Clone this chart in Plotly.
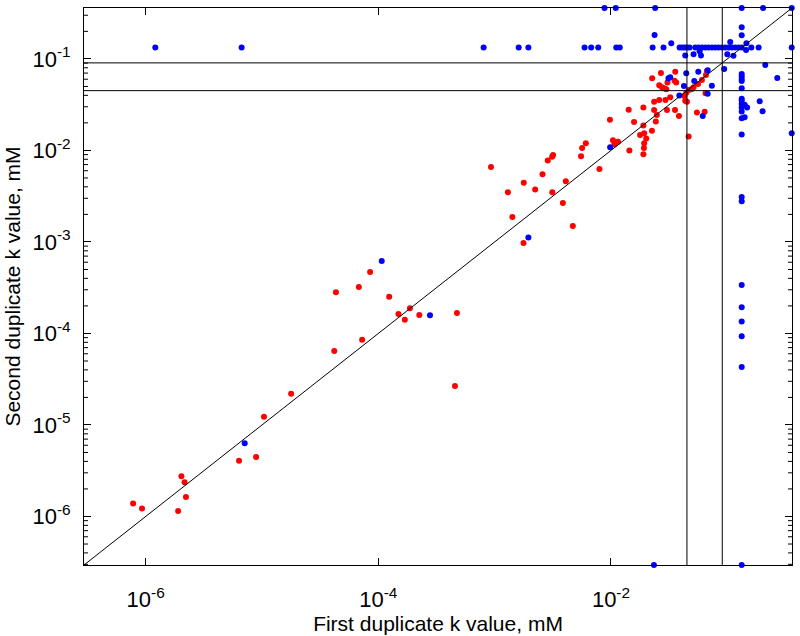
import math
import plotly.graph_objects as go

# duplicate k values (mM)
red_x = [7.8e-7, 9.3e-7, 1.9e-6, 2.03e-6, 2.16e-6, 2.22e-6, 6.35e-6, 8.9e-6, 1.04e-5, 1.78e-5,
         4.18e-5, 7.26e-5, 4.32e-5, 6.8e-5, 8.5e-5, 1.24e-4, 1.49e-4, 1.87e-4, 2.25e-4, 1.69e-4,
         4.74e-4, 4.56e-4, 9.3e-4, 1.3e-3, 1.42e-3, 1.78e-3, 2.23e-3, 1.77e-3, 2.58e-3, 2.86e-3,
         3.12e-3, 3.18e-3, 3.13e-3, 3.86e-3, 4.09e-3, 4.7e-3, 5.53e-3, 5.65e-3, 6.08e-3, 7.96e-3,
         9.8e-3, 1.04e-2, 1.07e-2, 1.15e-2, 1.42e-2, 1.44e-2, 1.9e-2, 1.93e-2, 1.78e-2, 1.93e-2,
         2.01e-2, 2.25e-2, 1.58e-2, 1.9e-2, 2.43e-2, 2.48e-2, 1.9e-2, 2.35e-2, 2.35e-2, 2.6e-2,
         2.94e-2, 3.23e-2, 3.03e-2, 3.55e-2, 3.84e-2, 2.69e-2, 2.26e-2, 2.6e-2, 2.74e-2, 2.87e-2,
         2.99e-2, 3.57e-2, 3.52e-2, 3.64e-2, 3.06e-2, 6.68e-2, 6.55e-2, 6.05e-2, 5.6e-2, 5.13e-2,
         4.92e-2, 4.65e-2, 4.44e-2, 4.35e-2, 4.5e-2, 4.65e-2, 5.48e-2, 6.39e-2, 6.5e-2, 4.28e-2,
         1.92e-2]
red_y = [1.39e-6, 1.22e-6, 1.15e-6, 2.75e-6, 2.37e-6, 1.63e-6, 4.07e-6, 4.47e-6, 1.23e-5, 2.2e-5,
         6.45e-5, 8.55e-5, 2.82e-4, 3.22e-4, 4.7e-4, 2.52e-4, 1.63e-4, 1.88e-4, 1.59e-4, 1.41e-4,
         1.67e-4, 2.67e-5, 6.6e-3, 3.49e-3, 1.87e-3, 4.42e-3, 3.73e-3, 9.75e-4, 5.5e-3, 7.75e-3,
         8.55e-3, 8.9e-3, 3.49e-3, 2.67e-3, 4.6e-3, 1.49e-3, 8.65e-3, 1.06e-2, 1.2e-2, 6.28e-3,
         2.17e-2, 1.29e-2, 1.17e-2, 1.24e-2, 2.79e-2, 9.95e-3, 9.1e-3, 1.2e-2, 1.47e-2, 1.54e-2,
         1.35e-2, 1.64e-2, 2.05e-2, 1.87e-2, 2.07e-2, 2.44e-2, 2.94e-2, 2.77e-2, 3.41e-2, 3.56e-2,
         3.56e-2, 3.81e-2, 2.77e-2, 2.77e-2, 2.38e-2, 7.03e-2, 6.15e-2, 5.16e-2, 4.91e-2, 4.79e-2,
         4.67e-2, 7.26e-2, 5.79e-2, 5.51e-2, 5.51e-2, 7.4e-2, 6.68e-2, 5.89e-2, 5.33e-2, 4.91e-2,
         4.67e-2, 4.58e-2, 4.28e-2, 3.5e-2, 3.41e-2, 1.42e-2, 2.59e-2, 2.65e-2, 4.22e-2, 3.94e-2,
         1.06e-2]

top = 0.36      # values pinned at the upper limit
bottom = 2.95e-7
cap = 0.133

blue_x = [8.8e-3, 1.1e-2, 2.4e-2, cap, 0.203, 0.358,
          1.21e-6, 6.68e-6, 8.04e-4, 1.61e-3, 1.95e-3, 5.93e-3, 6.76e-3, 7.77e-3, 1.11e-2, 1.19e-2,
          2.28e-2, 2.83e-2, 3.89e-2, 4.08e-2, 4.3e-2, 4.5e-2, 4.74e-2, 5.31e-2, 5.66e-2, 6.06e-2,
          6.47e-2, 6.9e-2, 7.38e-2, 7.88e-2, 8.41e-2, 8.99e-2, 9.6e-2, 0.1025, 0.1096, 0.117, 0.125,
          cap, 0.161, 0.186, 0.358,
          cap, cap, cap, cap, cap, cap, cap, cap, cap, cap, cap, cap, cap, cap, cap, cap, cap, cap,
          cap, cap, cap, cap,
          2.37e-2, 3.3e-2, 0.106, 0.146, 4.35e-2, 5.13e-2, 5.78e-2, 5.94e-2, 0.1, 0.113, 0.145,
          0.212, 0.094, 0.269, 4.44e-2, 5.63e-2, 6.78e-2, 3.12e-2, 3.23e-2, 5.2e-2, 4.24e-2,
          3.87e-2, 7.37e-2, 6.78e-2, 6.15e-2, 9.84e-3, 1.95e-3, 2.78e-4, 1.07e-4, 7.1e-6,
          0.141, 0.148, 0.141, 0.19, 0.201, 0.358, 2.34e-2]
blue_y = [top, top, top, top, top, top,
          cap, cap, cap, cap, cap, cap, cap, cap, cap, cap,
          cap, cap, cap, cap, cap, cap, cap, cap, cap, cap,
          cap, cap, cap, cap, cap, cap, cap, cap, cap, cap, cap,
          cap, cap, cap, cap,
          0.222, 0.181, 0.0685, 0.0641, 0.0604, 0.0575, 0.0479, 0.0366, 0.0348, 0.0322, 0.0294,
          0.0266, 0.0225, 0.0149, 3.1e-3, 2.79e-3, 3.39e-4, 1.93e-4, 1.35e-4, 9.3e-5, 4.3e-5, bottom,
          0.183, 0.148, 0.153, 0.148, 0.109, 0.1125, 0.121, 0.109, 0.1125, 0.108, 0.125,
          0.0859, 0.0778, 0.062, 0.0698, 0.0726, 0.0753, 0.0615, 0.063, 0.0575, 0.0507,
          0.0399, 0.051, 0.0415, 0.0238, 1.08e-2, 1.12e-3, 1.58e-4, 6.2e-4, 6.3e-6,
          0.0316, 0.0294, 0.0231, 0.0345, 0.0268, 0.0154, bottom]

cut_lo = 0.045
cut_hi = 0.0905
lims = [2.95e-7, 0.36]

x_tickvals = [1e-6, 1e-4, 1e-2]
x_ticktext = ['10<sup>-6</sup>', '10<sup>-4</sup>', '10<sup>-2</sup>']
y_tickvals = [1e-6, 1e-5, 1e-4, 1e-3, 1e-2, 1e-1]
y_ticktext = ['10<sup>-6</sup>', '10<sup>-5</sup>', '10<sup>-4</sup>',
              '10<sup>-3</sup>', '10<sup>-2</sup>', '10<sup>-1</sup>']
# minor ticks 2..9 in every decade on the y axis
y_minor = [m * 10.0 ** e for e in range(-7, 0) for m in range(2, 10)
           if lims[0] < m * 10.0 ** e < lims[1]]

fig = go.Figure()

fig.add_trace(go.Scatter(x=red_x, y=red_y, mode='markers',
                         marker=dict(color='#ff0000', size=6), cliponaxis=False))
fig.add_trace(go.Scatter(x=blue_x, y=blue_y, mode='markers',
                         marker=dict(color='#0000ff', size=6), cliponaxis=False))

# y = x
fig.add_trace(go.Scatter(x=[1e-8, 10], y=[1e-8, 10], mode='lines',
                         line=dict(color='black', width=1)))
# cut-off lines
for c in [cut_lo, cut_hi]:
    fig.add_trace(go.Scatter(x=[c, c], y=[1e-8, 10], mode='lines',
                             line=dict(color='black', width=1)))
    fig.add_trace(go.Scatter(x=[1e-8, 10], y=[c, c], mode='lines',
                             line=dict(color='black', width=1)))

# minor tick dashes on the left and right frame, placed on the y scale
tick_frac = 4 / 708
for v in y_minor:
    for x0, x1 in [(0, tick_frac), (1 - tick_frac, 1)]:
        fig.add_shape(type='line', xref='x domain', yref='y',
                      x0=x0, x1=x1, y0=v, y1=v,
                      line=dict(color='black', width=1), layer='above')

rng = [math.log10(lims[0]), math.log10(lims[1])]

fig.update_layout(
    width=800, height=636,
    margin=dict(l=84, r=8, t=8, b=71),
    plot_bgcolor='white', paper_bgcolor='white',
    showlegend=False,
    font=dict(family='Liberation Sans, Arial, sans-serif', size=21, color='black'),
    xaxis=dict(
        type='log', range=rng, tickmode='array', tickvals=x_tickvals, ticktext=x_ticktext,
        tickfont=dict(size=22),
        showgrid=False, zeroline=False, automargin=False,
        showline=True, linecolor='black', linewidth=1, mirror='ticks',
        ticks='inside', ticklen=7, tickcolor='black',
        ticklabelstandoff=15,
        title=dict(text='First duplicate k value, mM', font=dict(size=21), standoff=0),
    ),
    yaxis=dict(
        type='log', range=rng, tickmode='array', tickvals=y_tickvals, ticktext=y_ticktext,
        tickfont=dict(size=22),
        showgrid=False, zeroline=False, automargin=False,
        showline=True, linecolor='black', linewidth=1, mirror='ticks',
        ticks='inside', ticklen=7, tickcolor='black',
        ticklabelstandoff=8,
        title=dict(text='Second duplicate k value, mM', font=dict(size=21), standoff=6),
    ),
)

fig.write_html("out.html", config={'displayModeBar': False},
               post_script="document.body.style.margin='0';")
